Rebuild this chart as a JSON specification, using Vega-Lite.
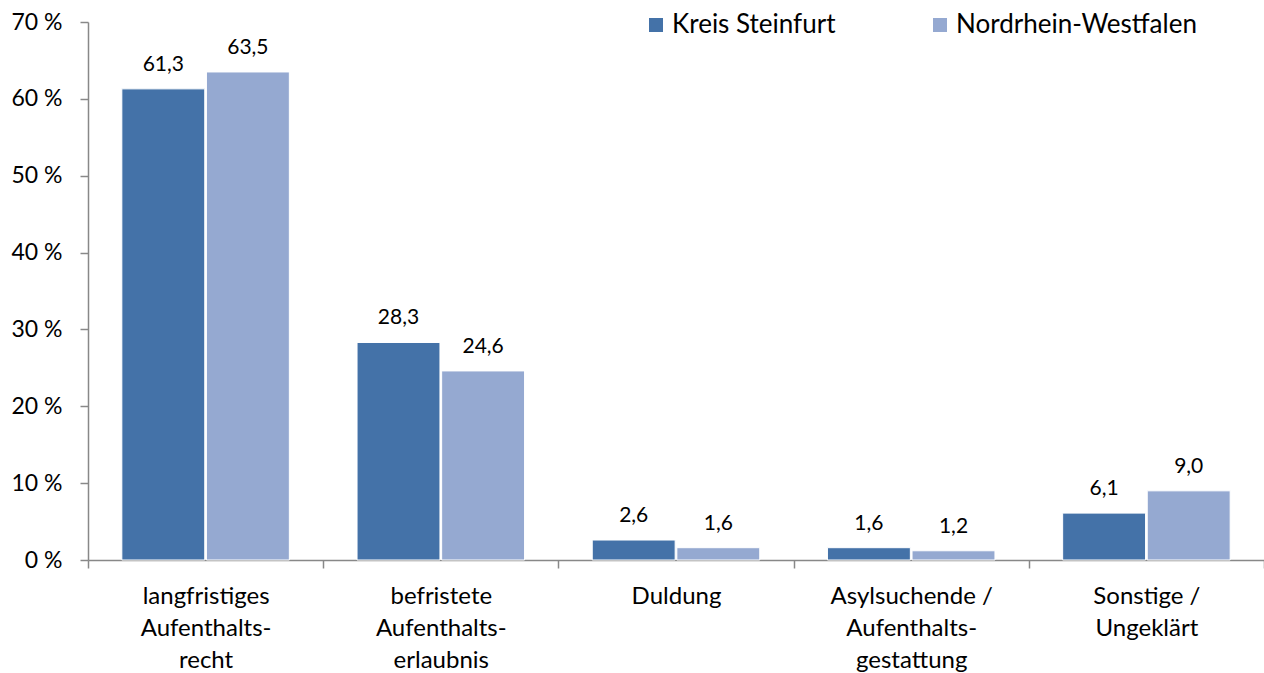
{
  "$schema": "https://vega.github.io/schema/vega-lite/v6.json",
  "width": 1176,
  "height": 538,
  "autosize": {"type": "none"},
  "padding": {"left": 88, "top": 22, "right": 0, "bottom": 113},
  "background": "white",
  "config": {
    "font": "Lato",
    "view": {"stroke": null},
    "locale": {"number": {"decimal": ",", "thousands": ".", "grouping": [3], "currency": ["", " €"]}}
  },
  "data": {
    "values": [
      {"cat": "langfristiges|Aufenthalts-|recht", "region": "Kreis Steinfurt", "value": 61.3},
      {"cat": "langfristiges|Aufenthalts-|recht", "region": "Nordrhein-Westfalen", "value": 63.5},
      {"cat": "befristete|Aufenthalts-|erlaubnis", "region": "Kreis Steinfurt", "value": 28.3},
      {"cat": "befristete|Aufenthalts-|erlaubnis", "region": "Nordrhein-Westfalen", "value": 24.6},
      {"cat": "Duldung", "region": "Kreis Steinfurt", "value": 2.6},
      {"cat": "Duldung", "region": "Nordrhein-Westfalen", "value": 1.6},
      {"cat": "Asylsuchende /|Aufenthalts-|gestattung", "region": "Kreis Steinfurt", "value": 1.6},
      {"cat": "Asylsuchende /|Aufenthalts-|gestattung", "region": "Nordrhein-Westfalen", "value": 1.2},
      {"cat": "Sonstige /|Ungeklärt", "region": "Kreis Steinfurt", "value": 6.1},
      {"cat": "Sonstige /|Ungeklärt", "region": "Nordrhein-Westfalen", "value": 9.0}
    ]
  },
  "encoding": {
    "x": {
      "field": "cat", "type": "nominal", "sort": null,
      "scale": {"paddingInner": 0, "paddingOuter": 0},
      "axis": {
        "title": null, "labelAngle": 0, "tickBand": "extent",
        "domainColor": "#888888", "domainWidth": 1.5, "tickColor": "#888888", "tickWidth": 1.5, "tickSize": 8,
        "labelExpr": "split(datum.label, '|')",
        "labelFontSize": 24, "labelColor": "#000000", "labelPadding": 16, "labelLineHeight": 32,
        "labelBaseline": "top"
      }
    },
    "xOffset": {
      "field": "region", "type": "nominal", "sort": ["Kreis Steinfurt", "Nordrhein-Westfalen"],
      "scale": {"paddingInner": 0.02, "paddingOuter": 0.4}
    },
    "y": {
      "field": "value", "type": "quantitative",
      "scale": {"domain": [0, 70], "nice": false},
      "axis": {
        "title": null, "values": [0, 10, 20, 30, 40, 50, 60, 70], "grid": false,
        "labelExpr": "datum.value + ' %'",
        "domainColor": "#888888", "domainWidth": 1.5, "tickColor": "#888888", "tickWidth": 1.5, "tickSize": 8,
        "labelFontSize": 23, "labelColor": "#000000", "labelPadding": 18
      }
    }
  },
  "layer": [
    {
      "mark": {"type": "bar", "stroke": "white", "strokeWidth": 1},
      "encoding": {
        "color": {
          "field": "region", "type": "nominal",
          "scale": {"domain": ["Kreis Steinfurt", "Nordrhein-Westfalen"], "range": ["#4472A8", "#95A9D1"]},
          "legend": {
            "title": null, "orient": "none", "direction": "horizontal",
            "legendX": 555, "legendY": -10,
            "symbolType": "square", "symbolSize": 196, "symbolStrokeWidth": 0,
            "labelFontSize": 26, "labelColor": "#000000", "columnPadding": 91, "labelOffset": 3, "padding": 0,
            "labelLimit": 400
          }
        }
      }
    },
    {
      "mark": {"type": "text", "dy": -24, "fontSize": 21, "color": "#000000"},
      "encoding": {
        "text": {"field": "value", "type": "quantitative", "format": ".1f"}
      }
    }
  ]
}
